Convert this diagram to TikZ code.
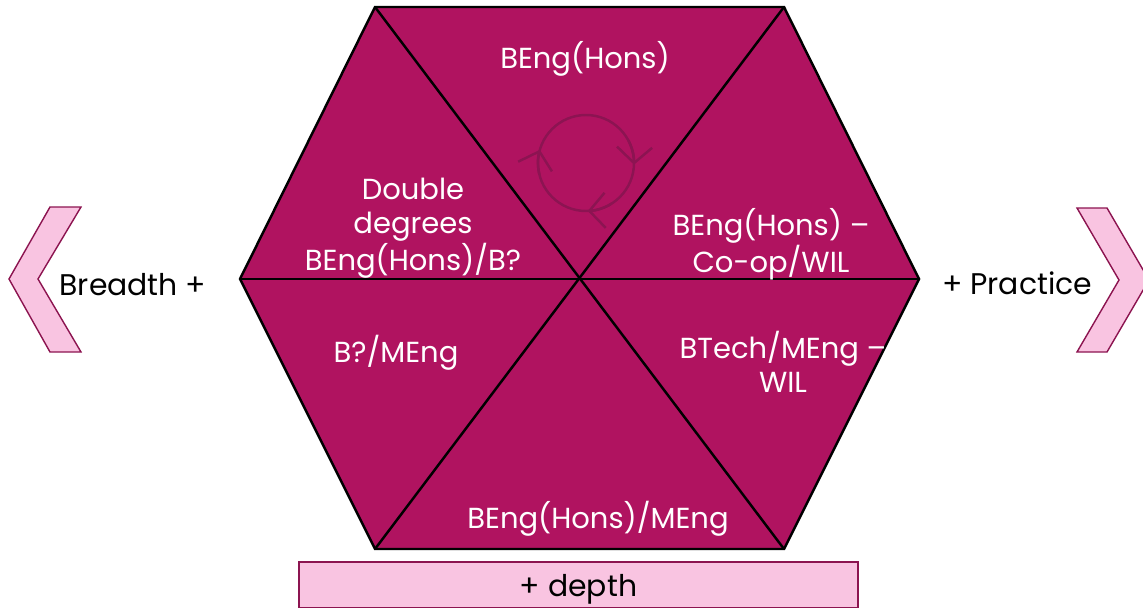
\documentclass[tikz,border=0pt]{standalone}
\usepackage{fontspec}
\setmainfont{Poppins}
\usetikzlibrary{arrows.meta}

\definecolor{hexfill}{RGB}{176,19,96}
\definecolor{chevfill}{RGB}{249,196,225}
\definecolor{chevline}{RGB}{140,20,80}
\definecolor{cycline}{RGB}{140,20,82}

\tikzset{
  seg/.style={draw=black, line width=1.4pt},
  segtext/.style={text=white, align=center, font=\fontsize{16.5}{19.5}\selectfont},
  sidetext/.style={text=black, font=\fontsize{17}{19.5}\selectfont},
  chevron/.style={fill=chevfill, draw=chevline, line width=0.8pt},
  cyc/.style={draw=cycline, line width=1.4pt},
  cyctip/.style={-{Straight Barb[length=9pt,width=20pt]}}
}

\begin{document}
\begin{tikzpicture}[x=0.02cm,y=-0.02cm]
        \useasboundingbox (0,0) rectangle (1143,608);

        % hexagon
        \coordinate (c) at (580,279);
        \coordinate (w) at (240,279);
        \coordinate (nw) at (375,7);
        \coordinate (ne) at (784,7);
        \coordinate (e) at (919,279);
        \coordinate (se) at (784,549);
        \coordinate (sw) at (375,549);
        \filldraw[seg, fill=hexfill] (w) -- (nw) -- (ne) -- (e) -- (se) -- (sw) -- cycle;
        \draw[seg] (w) -- (e);
        \draw[seg] (nw) -- (se);
        \draw[seg] (ne) -- (sw);

        % cycle
        \coordinate (cyc) at (586,163);
        \draw[cyc] (cyc) circle (48);
        \draw[cyc, cyctip] (cyc) ++(166:48) arc[start angle=166, end angle=196, radius=48];
        \draw[cyc, cyctip] (cyc) ++(-28:48) arc[start angle=-28, end angle=2, radius=48];
        \draw[cyc, cyctip] (cyc) ++(58:48) arc[start angle=58, end angle=88, radius=48];

        \node[segtext] (hons) at (585,59) {BEng(Hons)};
        \node[segtext] (double) at (413,228) {Double\\degrees\\BEng(Hons)/B?};
        \node[segtext] (coop) at (771,244) {BEng(Hons) –\\Co-op/WIL};
        \node[segtext] (bmeng) at (396,353) {B?/MEng};
        \node[segtext] (btech) at (783,362) {BTech/MEng –\\WIL};
        \node[segtext] (honsmeng) at (598,519) {BEng(Hons)/MEng};

        % sides
        \filldraw[chevron] (50,207) -- (81,207) -- (38,279) -- (81,352) -- (50,352) -- (9,279) -- cycle;
        \filldraw[chevron] (1077,208) -- (1107,208) -- (1149,280) -- (1107,352) -- (1077,352) -- (1119,280) -- cycle;
        \node[sidetext] (breadth) at (133,285) {Breadth +};
        \node[sidetext] (practice) at (1017,283) {+ Practice};

        \node[chevron, minimum width=559*0.02cm, minimum height=46*0.02cm, sidetext, text depth=0pt] (depth) at (578.5,585) {+ depth};

    \end{tikzpicture}
\end{document}
